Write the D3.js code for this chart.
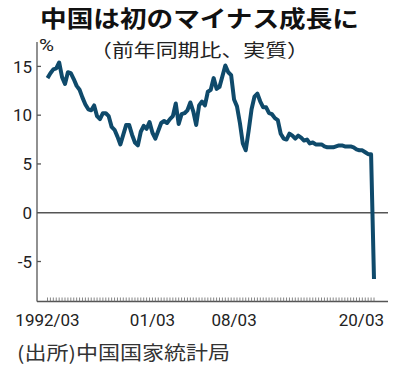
<!DOCTYPE html>
<html>
<head>
<meta charset="utf-8">
<script src="https://cdn.jsdelivr.net/npm/d3@7"></script>
<style>
body { margin: 0; background: #fff; }
text { font-family: Roboto, "Noto Sans", sans-serif; fill: #222; }
.jp { font-family: "Noto Sans CJK JP", sans-serif; }
</style>
</head>
<body>
<div id="chart"></div>
<script>
// quarterly real GDP growth, yoy %, 1992Q1 .. 2020Q1
var quarters = d3.range(1992, 2021).flatMap(function(y) {
	return [3, 6, 9, 12].map(function(m) { return y + "/" + (m < 10 ? "0" + m : m); });
}).slice(0, 113);

var growth = [
	13.8, 14.3, 14.7, 14.8,   // 1992
	15.4, 13.9, 13.2, 14.4,   // 1993
	14.3, 13.7, 13.0, 12.6,   // 1994
	11.8, 11.1, 10.6, 10.5,   // 1995
	11.0, 9.9, 9.6, 10.2,     // 1996
	10.2, 9.9, 8.8, 8.5,      // 1997
	7.8, 7.0, 8.0, 9.0,       // 1998
	9.0, 8.0, 7.2, 6.9,       // 1999
	8.3, 8.9, 8.6, 9.3,       // 2000
	8.2, 7.6, 8.4, 9.2,       // 2001
	9.4, 9.2, 9.6, 9.9,       // 2002
	11.2, 9.1, 10.1, 10.2,    // 2003
	10.5, 11.3, 10.4, 9.0,    // 2004
	11.0, 11.4, 11.0, 12.4,   // 2005
	12.6, 13.8, 12.7, 12.9,   // 2006
	14.0, 15.1, 14.4, 14.1,   // 2007
	11.6, 10.9, 9.2, 7.1,     // 2008
	6.4, 8.4, 10.6, 11.9,     // 2009
	12.2, 11.4, 10.8, 10.8,   // 2010
	10.2, 10.1, 9.7, 9.5,     // 2011
	8.1, 7.6, 7.5, 8.1,       // 2012
	7.9, 7.6, 7.9, 7.7,       // 2013
	7.4, 7.5, 7.1, 7.2,       // 2014
	7.0, 7.0, 7.0, 6.8,       // 2015
	6.7, 6.7, 6.7, 6.8,       // 2016
	6.9, 6.9, 6.8, 6.8,       // 2017
	6.8, 6.7, 6.5, 6.4,       // 2018
	6.4, 6.2, 6.0, 6.0,       // 2019
	-6.8                      // 2020
];

var yTicks = [15, 10, 5, 0, -5];
var xLabelIdx = [0, 36, 64, 112];
var xLabels = ["1992/03", "01/03", "08/03", "20/03"];

var title = "中国は初のマイナス成長に",
	subtitle = "（前年同期比、実質）",
	source = "(出所)中国国家統計局";

var w = 400, h = 372,
	box = {left: 37, right: 388, top: 42, bottom: 301.5};

var svg = d3.select("#chart").append("svg:svg")
	.attr("width", w)
	.attr("height", h);

var x = d3.scaleLinear().domain([0, quarters.length - 1]).range([47.5, 374]);
var y = d3.scaleLinear().domain([-9.1, 15]).range([box.bottom, 66.4]);

//Titles
svg.append("svg:text")
	.attr("class", "jp")
	.attr("x", 40).attr("y", 27)
	.attr("textLength", 319).attr("lengthAdjust", "spacingAndGlyphs")
	.style("font-size", "23px").style("font-weight", "bold").style("fill", "#111")
	.text(title);

svg.append("svg:text")
	.attr("class", "jp")
	.attr("x", 90).attr("y", 57)
	.attr("textLength", 219).attr("lengthAdjust", "spacingAndGlyphs")
	.style("font-size", "18px")
	.text(subtitle);

svg.append("svg:text")
	.attr("x", 39).attr("y", 51)
	.attr("textLength", 15).attr("lengthAdjust", "spacingAndGlyphs")
	.style("font-size", "17px")
	.text("%");

//Frame
svg.append("svg:line")
	.attr("x1", box.left).attr("x2", box.left)
	.attr("y1", box.top).attr("y2", box.bottom)
	.style("stroke", "#555").style("stroke-width", 1.3);
svg.append("svg:line")
	.attr("x1", box.left).attr("x2", box.right)
	.attr("y1", box.bottom).attr("y2", box.bottom)
	.style("stroke", "#555").style("stroke-width", 1.3);

//Y ticks
var yt = svg.selectAll("g.ytick").data(yTicks).enter().append("svg:g")
	.attr("class", "ytick")
	.attr("transform", function(d) { return "translate(0," + y(d) + ")"; });
yt.append("svg:line")
	.attr("x1", box.left).attr("x2", function(d) { return d == 0 ? box.right : box.left + 4; })
	.style("stroke", "#555").style("stroke-width", 1.3);
yt.append("svg:text")
	.attr("x", 32).attr("dy", "0.36em")
	.style("text-anchor", "end").style("font-size", "17px")
	.text(function(d) { return d; });

//X ticks, one per quarter
svg.selectAll("line.xtick").data(quarters).enter().append("svg:line")
	.attr("class", "xtick")
	.attr("x1", function(d, i) { return x(i); })
	.attr("x2", function(d, i) { return x(i); })
	.attr("y1", box.bottom).attr("y2", box.bottom - 4)
	.style("stroke", "#666").style("stroke-width", 0.8);

svg.selectAll("text.xlab").data(xLabelIdx).enter().append("svg:text")
	.attr("class", "xlab")
	.attr("x", function(d, i) { return i == xLabelIdx.length - 1 ? x(d) + 10 : x(d); })
	.attr("y", 326)
	.style("text-anchor", function(d, i) { return i == xLabelIdx.length - 1 ? "end" : "middle"; })
	.style("font-size", "17px")
	.text(function(d, i) { return xLabels[i]; });

//Line
var line = d3.line()
	.x(function(d, i) { return x(i); })
	.y(function(d) { return y(d); });

svg.append("svg:path")
	.datum(growth)
	.attr("d", line)
	.style("fill", "none")
	.style("stroke", "#0f4a6b")
	.style("stroke-width", 4)
	.style("stroke-linejoin", "round");

//Source
svg.append("svg:text")
	.attr("class", "jp")
	.attr("x", 17).attr("y", 360)
	.attr("textLength", 213).attr("lengthAdjust", "spacingAndGlyphs")
	.style("font-size", "19px").style("fill", "#333")
	.text(source);
</script>
</body>
</html>
